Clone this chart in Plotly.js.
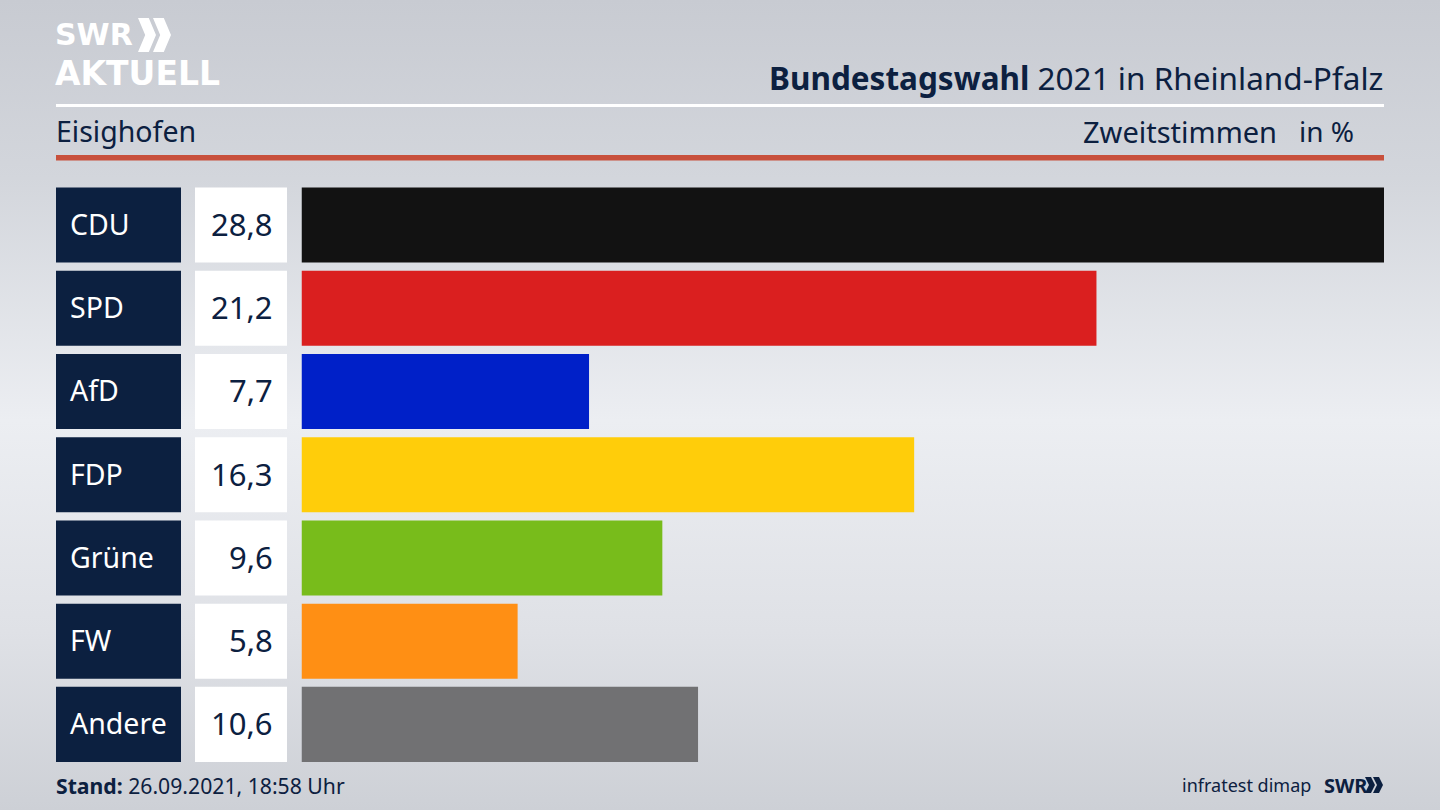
<!DOCTYPE html>
<html><head><meta charset="utf-8">
<script src="https://cdn.plot.ly/plotly-3.0.1.min.js"></script>
<style>
html,body{margin:0;padding:0;width:1440px;height:810px;overflow:hidden;
background:linear-gradient(180deg,#c8cbd2 0%,#d3d6dc 22%,#eceef2 52%,#dfe1e6 78%,#cdd0d6 100%);}
#c{width:1440px;height:810px;}
</style></head><body><div id="c"></div>
<script>
const parties = ["CDU","SPD","AfD","FDP","Grüne","FW","Andere"];
const shares = [28.8,21.15,7.65,16.3,9.6,5.75,10.55];
const shareLabels = ["28,8","21,2","7,7","16,3","9,6","5,8","10,6"];
const barColors = ["#121212","#da1f1f","#0020c8","#ffcd0a","#78bc1b","#ff8f14","#717173"];
const navy = "#0c2040";
const FONT = "Noto Sans, Open Sans, sans-serif";
const LOGO = "DejaVu Sans, sans-serif";
const W = 1440, H = 810;
const px = v => v / W, py = v => 1 - v / H;

const boxTrace = (axis, color) => ({
  type:"bar", orientation:"h", y:parties, x:parties.map(() => 1),
  xaxis:axis, yaxis:"y", marker:{color:color, line:{width:0}}, hoverinfo:"skip", showlegend:false
});
const data = [
  boxTrace("x2", navy),
  boxTrace("x3", "#ffffff"),
  {type:"bar", orientation:"h", y:parties, x:shares, xaxis:"x", yaxis:"y",
   marker:{color:barColors, line:{width:0}}, hoverinfo:"skip", showlegend:false}
];

const txt = (text, xv, yv, size, color, anchor, family) => ({
  text, x:px(xv), y:py(yv), xref:"paper", yref:"paper", xanchor:anchor, yanchor:"middle",
  showarrow:false, font:{family:family||FONT, size, color}, borderpad:0
});
const annotations = [
  ...parties.map(p => ({text:p, x:0, y:p, xref:"x2", yref:"y", xanchor:"left", xshift:12, yshift:1,
     showarrow:false, font:{family:FONT, size:28.5, color:"#ffffff"}})),
  ...shareLabels.map((s,i) => ({text:s, x:1, y:parties[i], xref:"x3", yref:"y", xanchor:"right", xshift:-12, yshift:1,
     showarrow:false, font:{family:FONT, size:31, color:navy}})),
  txt("<b>SWR</b>",54,35,30,"#ffffff","left",LOGO),
  txt("<b>AKTUELL</b>",54,73,33,"#ffffff","left",LOGO),
  txt("<b>Bundestagswahl</b> 2021 in Rheinland-Pfalz",1384,77,31.5,navy,"right"),
  txt("Eisighofen",55,131,28.5,navy,"left"),
  txt("Zweitstimmen",1278,131,29,navy,"right"),
  txt("in %",1355,131,28,navy,"right"),
  txt("<b>Stand:</b> 26.09.2021, 18:58 Uhr",55,785,21.2,navy,"left"),
  txt("infratest dimap",1312,785,18,navy,"right"),
  txt("<b>SWR</b>",1323,785,20,navy,"left")
];
const chevrons = (x,y,h,w,gap,color) => [0,1].map(i => ({
  type:"path", xref:"paper", yref:"paper", fillcolor:color, line:{width:0},
  path:`M ${px(x+i*gap)} ${py(y)} L ${px(x+i*gap+w*0.6)} ${py(y)} L ${px(x+i*gap+w)} ${py(y+h/2)} L ${px(x+i*gap+w*0.6)} ${py(y+h)} L ${px(x+i*gap)} ${py(y+h)} L ${px(x+i*gap+w*0.4)} ${py(y+h/2)} Z`
}));
const shapes = [
  {type:"rect",xref:"paper",yref:"paper",x0:px(56),x1:px(1384),y0:py(104),y1:py(107),fillcolor:"#ffffff",line:{width:0}},
  {type:"rect",xref:"paper",yref:"paper",x0:px(56),x1:px(1384),y0:py(155),y1:py(160.5),fillcolor:"#c8503c",line:{width:0}},
  ...chevrons(138,18,34,18,15,"#ffffff"),
  ...chevrons(1365,777,16,10,8,navy)
];
const hidden = {visible:false, fixedrange:true};
const layout = {
  width:W, height:H, margin:{l:0,r:0,t:0,b:0},
  paper_bgcolor:"rgba(0,0,0,0)", plot_bgcolor:"rgba(0,0,0,0)",
  bargap:0.0986, showlegend:false,
  xaxis:{...hidden, domain:[px(301.5),px(1384)], range:[0,28.8], anchor:"y"},
  xaxis2:{...hidden, domain:[px(56),px(181)], range:[0,1], anchor:"y"},
  xaxis3:{...hidden, domain:[px(195),px(287)], range:[0,1], anchor:"y"},
  yaxis:{...hidden, domain:[py(766),py(183.4)], type:"category", categoryorder:"array", categoryarray:parties, autorange:"reversed"},
  annotations, shapes
};
Plotly.newPlot("c", data, layout, {displayModeBar:false, staticPlot:true});
</script></body></html>
